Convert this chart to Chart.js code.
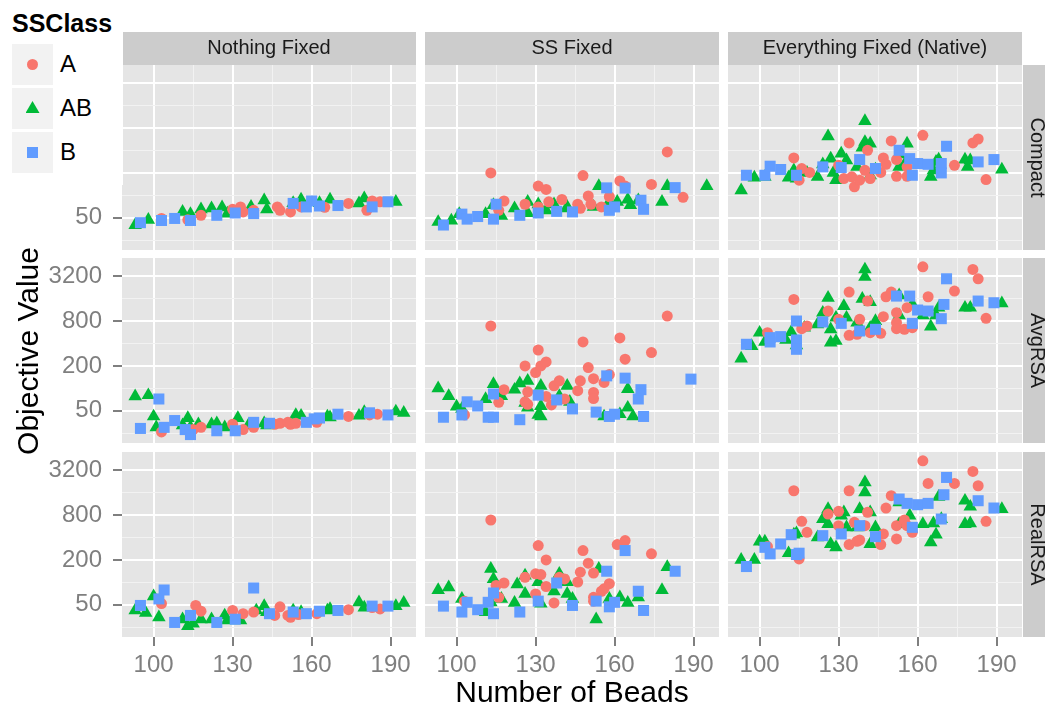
<!DOCTYPE html>
<html>
<head>
<meta charset="utf-8">
<title>Objective value by number of beads</title>
<script src="https://cdn.jsdelivr.net/npm/chart.js@4.4.1/dist/chart.umd.min.js"></script>
<style>
  body {
    margin: 0;
    width: 1045px;
    height: 707px;
    overflow: hidden;
    position: relative;
    background: #ffffff;
    font-family: "Liberation Sans", Arial, sans-serif;
  }
  canvas.panel {
    position: absolute;
    left: 0;
    top: 0;
    pointer-events: none;
  }
  .axis-title {
    position: absolute;
    font-size: 30px;
    line-height: 30px;
    height: 30px;
    width: 400px;
    text-align: center;
    color: #000000;
    white-space: nowrap;
  }
  #xTitle { left: 372px; top: 677px; }
  #yTitle { left: -172px; top: 336px; transform: rotate(-90deg); }
  #legend {
    position: absolute;
    left: 0;
    top: 0;
    width: 123px;
    height: 185px;
    background: #ffffff;
  }
  #legend .title {
    position: absolute;
    left: 12px;
    top: 8px;
    font-size: 25px;
    line-height: 30px;
    font-weight: bold;
  }
  #legend .key {
    position: absolute;
    left: 12px;
    width: 41px;
    height: 41px;
    background: #f2f2f2;
  }
  #legend .symbol { position: absolute; }
  #legend .label {
    position: absolute;
    left: 60px;
    font-size: 24px;
    line-height: 30px;
  }
</style>
</head>
<body>
<div id="plots"></div>
<div class="axis-title" id="xTitle">Number of Beads</div>
<div class="axis-title" id="yTitle">Objective Value</div>
<div id="legend"><div class="title">SSClass</div></div>

<script>
const columnLabels = ["Nothing Fixed", "SS Fixed", "Everything Fixed (Native)"];
const rowLabels = ["Compact", "AvgRSA", "RealRSA"];
const classLabels = ["A", "AB", "B"];
const beadTicks = [100, 130, 160, 190];
const beadMinorTicks = [115, 145, 175];
const valueTicks = [50, 200, 800, 3200];
const valueMinorTicks = [25, 100, 400, 1600];

// [beads, objective value] pairs per panel and class

const compactNothingA = [[103,49],[113,47],[118,54],[130,65],[133,70],[134,60],[138,63],[147,70],[148,63],[152,60],[156,70],[165,69],[174,78],[181,63],[183,84],[186,82]];
const compactNothingAB = [[93,40],[98,47],[111,60],[114,56],[118,65],[122,67],[126,69],[128,57],[137,70],[142,86],[143,65],[153,79],[156,88],[163,79],[167,88],[178,78],[180,91],[192,82]];
const compactNothingB = [[95,43],[103,46],[108,49],[114,46],[124,54],[131,58],[138,57],[153,78],[158,70],[160,84],[163,72],[170,73],[183,70],[189,82]];

const compactSSA = [[113,200],[118,84],[116,63],[131,133],[134,120],[126,76],[131,70],[135,82],[140,88],[146,76],[147,67],[148,184],[150,98],[151,76],[155,70],[158,96],[162,156],[164,133],[174,140],[180,382],[186,94]];
const compactSSAB = [[93,44],[98,46],[101,56],[111,56],[114,74],[117,53],[122,67],[127,82],[127,58],[131,76],[134,63],[137,76],[142,70],[142,67],[154,133],[152,70],[161,82],[165,88],[166,74],[169,86],[178,82],[180,133],[195,133],[158,82]];
const compactSSB = [[95,40],[102,56],[104,48],[108,52],[114,48],[115,76],[124,54],[131,58],[138,61],[144,60],[157,126],[158,63],[160,70],[164,125],[170,86],[171,65],[183,127]];

const compactNativeA = [[113,318],[116,229],[119,203],[115,160],[134,504],[130,253],[132,168],[135,177],[136,130],[138,160],[140,217],[141,402],[142,168],[146,203],[147,318],[148,261],[150,536],[152,302],[152,180],[156,180],[156,241],[162,638],[174,253],[181,504],[183,570],[186,163]];
const compactNativeAB = [[93,117],[98,173],[102,177],[111,173],[114,168],[113,217],[118,200],[122,177],[124,261],[126,619],[127,311],[128,200],[129,160],[131,363],[133,295],[137,241],[139,436],[140,993],[140,520],[142,494],[142,186],[144,222],[153,241],[153,356],[155,261],[156,494],[165,177],[166,217],[167,281],[168,302],[178,302],[179,241],[180,295],[192,222]];
const compactNativeB = [[95,186],[102,186],[104,246],[108,222],[114,186],[124,241],[131,236],[138,302],[144,229],[153,402],[157,311],[158,186],[160,267],[164,261],[169,267],[169,200],[171,455],[183,281],[189,302]];

const avgNothingA = [[103,26],[115,28],[118,30],[130,33],[134,28],[138,30],[146,33],[148,34],[151,35],[152,33],[154,34],[162,35],[174,42],[182,44],[185,45]];
const avgNothingAB = [[93,78],[98,81],[100,42],[101,30],[111,32],[113,40],[114,30],[117,33],[122,33],[124,34],[127,30],[132,40],[136,32],[142,34],[143,32],[154,44],[156,43],[166,42],[167,41],[178,43],[180,48],[192,49],[195,47]];
const avgNothingB = [[95,29],[102,72],[104,30],[108,37],[112,28],[114,24],[124,27],[131,27],[138,35],[144,34],[158,35],[161,39],[163,40],[170,45],[182,47],[189,44]];

const avgSSA = [[113,686],[118,96],[116,65],[126,200],[130,163],[131,327],[132,200],[134,226],[126,66],[127,90],[134,78],[136,60],[137,108],[139,126],[141,72],[146,93],[147,126],[148,419],[150,190],[152,135],[152,88],[152,73],[156,120],[158,153],[162,474],[164,246],[174,302],[180,933],[103,44],[127,61]];
const avgSSAB = [[93,100],[97,79],[100,57],[102,53],[111,72],[114,114],[117,79],[122,96],[124,117],[127,126],[126,64],[127,55],[132,108],[132,58],[131,44],[132,42],[139,79],[142,108],[143,66],[156,42],[162,45],[165,98],[165,55],[167,42]];
const avgSSB = [[95,41],[102,44],[104,66],[108,58],[112,41],[114,41],[114,84],[124,38],[131,81],[138,70],[144,53],[153,48],[157,147],[158,42],[160,45],[164,137],[169,72],[170,96],[171,42],[189,133]];

const avgNativeA = [[103,558],[113,1559],[116,632],[118,686],[126,1089],[130,842],[134,1955],[134,514],[137,530],[138,842],[141,1482],[142,558],[146,547],[147,915],[148,1692],[150,1955],[152,760],[152,1034],[152,632],[155,619],[156,1207],[158,651],[162,4267],[164,1692],[174,2016],[181,3930],[183,2947],[186,869]];
const avgNativeAB = [[93,251],[97,370],[100,558],[102,419],[110,446],[112,570],[114,378],[117,651],[122,722],[124,1034],[126,1642],[127,619],[127,410],[129,432],[129,886],[132,1270],[133,886],[137,760],[139,1592],[140,3930],[140,3135],[142,1436],[142,651],[144,800],[153,953],[153,1764],[158,1337],[162,953],[165,672],[167,953],[168,1207],[178,1207],[180,1207],[192,1378]];
const avgNativeB = [[95,390],[104,479],[104,419],[108,494],[114,800],[114,446],[114,334],[124,776],[131,744],[138,588],[144,619],[152,1728],[157,1728],[158,744],[160,1123],[164,1089],[169,860],[170,1337],[171,2947],[183,1482],[189,1407]];

const realNothingA = [[103,52],[116,49],[118,41],[130,42],[134,38],[138,40],[146,36],[148,47],[151,36],[152,34],[155,37],[162,38],[174,43],[183,46],[186,44]];
const realNothingAB = [[93,42],[97,39],[100,65],[102,34],[111,32],[113,26],[115,28],[118,32],[122,32],[127,36],[128,31],[133,31],[139,42],[142,48],[143,40],[153,42],[156,40],[166,42],[167,44],[178,54],[180,46],[192,48],[195,53]];
const realNothingB = [[95,49],[102,60],[104,79],[108,29],[114,36],[124,29],[131,32],[138,84],[144,38],[153,40],[158,38],[163,41],[170,42],[183,48],[189,48]];

const realSSA = [[103,56],[113,686],[116,63],[115,91],[118,98],[126,117],[130,130],[131,311],[132,127],[134,200],[134,88],[130,70],[137,53],[139,117],[141,111],[146,101],[147,137],[148,267],[150,181],[152,133],[152,63],[152,56],[156,82],[155,76],[158,96],[161,321],[164,363],[174,241]];
const realSSAB = [[93,79],[97,86],[102,60],[113,152],[114,111],[113,54],[111,40],[117,60],[122,53],[123,94],[126,123],[126,70],[131,101],[132,52],[137,76],[139,130],[142,101],[142,70],[144,60],[153,32],[154,152],[158,60],[162,63],[165,53],[169,63],[178,79],[180,160]];
const realSSB = [[95,48],[102,40],[104,54],[108,43],[112,54],[114,38],[114,72],[124,40],[131,56],[138,98],[144,49],[153,56],[157,141],[158,47],[160,54],[164,267],[169,76],[171,42],[183,141]];

const realNativeA = [[103,302],[113,1692],[115,206],[116,658],[118,469],[126,825],[130,896],[130,576],[134,1692],[134,321],[136,638],[137,356],[138,370],[140,576],[141,869],[146,321],[147,446],[148,993],[150,1451],[152,382],[152,576],[155,686],[156,576],[158,469],[162,4267],[164,2122],[174,2122],[181,3072],[183,1975],[186,658]];
const realNativeAB = [[93,200],[98,200],[100,352],[102,352],[111,246],[113,436],[114,455],[122,402],[124,707],[126,962],[126,606],[127,327],[129,295],[131,784],[132,869],[133,547],[137,547],[138,962],[140,2189],[140,1608],[142,869],[142,327],[144,547],[153,606],[153,1181],[157,784],[162,606],[165,345],[166,619],[167,436],[168,1407],[169,707],[178,1244],[180,1034],[178,606],[180,619],[192,962]];
const realNativeB = [[95,163],[102,295],[104,241],[108,327],[112,436],[114,236],[115,246],[124,423],[131,446],[138,576],[144,410],[153,1310],[156,1146],[158,547],[160,1100],[164,1146],[169,707],[170,1497],[171,2553],[183,1244],[189,993]];

// rows x columns, each cell holds the A / AB / B lists
const panelData = [
  [[compactNothingA, compactNothingAB, compactNothingB], [compactSSA, compactSSAB, compactSSB], [compactNativeA, compactNativeAB, compactNativeB]],
  [[avgNothingA, avgNothingAB, avgNothingB], [avgSSA, avgSSAB, avgSSB], [avgNativeA, avgNativeAB, avgNativeB]],
  [[realNothingA, realNothingAB, realNothingB], [realSSA, realSSAB, realSSB], [realNativeA, realNativeAB, realNativeB]]
];

const COLORS = {
  A: "#F8766D",
  AB: "#00BA38",
  B: "#619CFF",
  PANEL: "#E5E5E5",
  STRIP: "#CCCCCC",
  GRID_MAJOR: "#FFFFFF",
  GRID_MINOR: "#F2F2F2",
  AXIS_TEXT: "#7F7F7F",
  STRIP_TEXT: "#1A1A1A"
};

const MARKERS = {
  A: { style: "circle", radius: 5.5 },
  AB: { style: "triangle", radius: 7.8 },
  B: { style: "rect", radius: 7.8 }
};

const PAGE = { width: 1045, height: 707 };
const GRID = { lefts: [122, 425, 728], tops: [65, 258, 452], width: 294, height: 185 };
const Y_AXIS_WIDTH = 80;
const X_AXIS_HEIGHT = 50;
const FONT = "'Liberation Sans', Arial, sans-serif";

Chart.defaults.font.family = FONT;

function tickList(majors, minors) {
  return majors.map((v) => ({ value: v, major: true }))
    .concat(minors.map((v) => ({ value: v, major: false })))
    .sort((a, b) => a.value - b.value);
}

const isMajor = (ctx) => !!(ctx.tick && ctx.tick.major);

const panelBackground = {
  id: "panelBackground",
  beforeDraw(chart) {
    const { ctx, chartArea: a } = chart;
    ctx.save();
    ctx.fillStyle = COLORS.PANEL;
    ctx.fillRect(a.left, a.top, a.right - a.left, a.bottom - a.top);
    ctx.restore();
  }
};

const facetStrips = {
  id: "facetStrips",
  afterDraw(chart, args, opts) {
    const { ctx, chartArea: a } = chart;
    ctx.save();
    ctx.font = "20px " + FONT;
    ctx.textAlign = "center";
    ctx.textBaseline = "middle";
    if (opts.top) {
      ctx.fillStyle = COLORS.STRIP;
      ctx.fillRect(a.left, a.top - 33, a.right - a.left, 33);
      ctx.fillStyle = COLORS.STRIP_TEXT;
      ctx.fillText(opts.top, (a.left + a.right) / 2, a.top - 16.5);
    }
    if (opts.right) {
      ctx.fillStyle = COLORS.STRIP;
      ctx.fillRect(a.right + 1, a.top, 30, a.bottom - a.top);
      ctx.fillStyle = COLORS.STRIP_TEXT;
      ctx.translate(a.right + 14.5, (a.top + a.bottom) / 2);
      ctx.rotate(Math.PI / 2);
      ctx.fillText(opts.right, 0, 0);
    }
    ctx.restore();
  }
};

function buildPanel(row, col) {
  const showY = col === 0;
  const showX = row === rowLabels.length - 1;
  const left = GRID.lefts[col];
  const top = GRID.tops[row];

  const canvas = document.createElement("canvas");
  canvas.className = "panel";
  canvas.width = PAGE.width;
  canvas.height = PAGE.height;
  document.getElementById("plots").appendChild(canvas);

  // draw B first in the list so the squares sit on top
  const order = [2, 0, 1];
  const datasets = order.map((k) => {
    const cls = classLabels[k];
    return {
      label: cls,
      data: panelData[row][col][k],
      pointStyle: MARKERS[cls].style,
      pointRadius: MARKERS[cls].radius,
      pointHoverRadius: MARKERS[cls].radius,
      pointBackgroundColor: COLORS[cls],
      pointBorderWidth: 0,
      showLine: false
    };
  });

  return new Chart(canvas, {
    type: "scatter",
    data: { datasets },
    plugins: [panelBackground, facetStrips],
    options: {
      responsive: false,
      devicePixelRatio: 1,
      animation: false,
      events: [],
      layout: {
        padding: {
          left: left - (showY ? Y_AXIS_WIDTH : 0),
          right: PAGE.width - left - GRID.width,
          top: top,
          bottom: PAGE.height - top - GRID.height - (showX ? X_AXIS_HEIGHT : 0)
        }
      },
      plugins: {
        legend: { display: false },
        tooltip: { enabled: false },
        facetStrips: {
          top: row === 0 ? columnLabels[col] : null,
          right: col === columnLabels.length - 1 ? rowLabels[row] : null
        }
      },
      scales: {
        x: {
          type: "linear",
          position: "bottom",
          min: 88,
          max: 199.65,
          bounds: "data",
          afterBuildTicks: (scale) => { scale.ticks = tickList(beadTicks, beadMinorTicks); },
          afterFit: (scale) => {
            scale.height = showX ? X_AXIS_HEIGHT : 0;
            scale.paddingLeft = 0;
            scale.paddingRight = 0;
          },
          border: { display: false },
          grid: {
            color: (ctx) => isMajor(ctx) ? COLORS.GRID_MAJOR : COLORS.GRID_MINOR,
            lineWidth: (ctx) => isMajor(ctx) ? 2 : 1,
            drawTicks: showX,
            tickLength: 9,
            tickWidth: 2,
            tickColor: (ctx) => isMajor(ctx) ? COLORS.AXIS_TEXT : "rgba(0,0,0,0)"
          },
          ticks: {
            display: showX,
            autoSkip: false,
            maxRotation: 0,
            padding: 5,
            color: COLORS.AXIS_TEXT,
            font: { size: 24 },
            callback: (value, index, ticks) => ticks[index].major ? String(value) : ""
          }
        },
        y: {
          type: "logarithmic",
          position: "left",
          min: 18.5,
          max: 5600,
          bounds: "data",
          afterBuildTicks: (scale) => { scale.ticks = tickList(valueTicks, valueMinorTicks); },
          afterFit: (scale) => {
            scale.width = showY ? Y_AXIS_WIDTH : 0;
            scale.paddingTop = 0;
            scale.paddingBottom = 0;
          },
          border: { display: false },
          grid: {
            color: (ctx) => isMajor(ctx) ? COLORS.GRID_MAJOR : COLORS.GRID_MINOR,
            lineWidth: (ctx) => isMajor(ctx) ? 2 : 1,
            drawTicks: showY,
            tickLength: 9,
            tickWidth: 2,
            tickColor: (ctx) => isMajor(ctx) ? COLORS.AXIS_TEXT : "rgba(0,0,0,0)"
          },
          ticks: {
            display: showY,
            autoSkip: false,
            padding: 11,
            color: COLORS.AXIS_TEXT,
            font: { size: 24 },
            callback: (value, index, ticks) => ticks[index].major ? String(value) : ""
          }
        }
      }
    }
  });
}

for (let r = 0; r < rowLabels.length; r++) {
  for (let c = 0; c < columnLabels.length; c++) {
    buildPanel(r, c);
  }
}

// legend keys
const legend = document.getElementById("legend");
const symbolCss = {
  circle: "width:11px;height:11px;border-radius:50%;left:15px;top:15px;",
  triangle: "width:14px;height:12px;left:13.5px;top:13px;clip-path:polygon(50% 0,100% 100%,0 100%);",
  rect: "width:11px;height:11px;left:15px;top:15px;"
};
classLabels.forEach((cls, i) => {
  const keyTop = 44 + i * 44;
  const key = document.createElement("div");
  key.className = "key";
  key.style.top = keyTop + "px";
  const symbol = document.createElement("div");
  symbol.className = "symbol";
  symbol.style.cssText = symbolCss[MARKERS[cls].style] + "background:" + COLORS[cls] + ";";
  key.appendChild(symbol);
  legend.appendChild(key);

  const label = document.createElement("div");
  label.className = "label";
  label.style.top = (keyTop + 5) + "px";
  label.textContent = cls;
  legend.appendChild(label);
});
</script>
</body>
</html>
